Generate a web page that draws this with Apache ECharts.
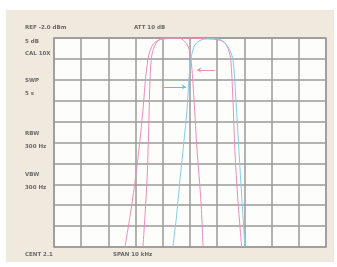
<!DOCTYPE html>
<html><head><meta charset="utf-8">
<script src="https://cdn.jsdelivr.net/npm/echarts@6/dist/echarts.min.js"></script>
<style>
html,body{margin:0;padding:0;background:#fff;}
#panel{position:absolute;left:6px;top:10px;width:328px;height:252px;background:#efe9de;}
#c{position:absolute;left:0;top:0;width:337px;height:267px;filter:blur(0.55px);}
</style></head>
<body><div id="panel"></div><div id="c"></div>
<script>
// Horizontal divisions (10) and vertical divisions (10), 5 dB/div
const xDivs = [0,1,2,3,4,5,6,7,8,9,10];
const yDivs = [0,1,2,3,4,5,6,7,8,9,10];
// Pink trace A (narrow filter): [div x, div y]
const pinkNarrow = [[3.27,0],[3.42,3.2],[3.49,6.1],[3.53,8.0],[3.6,9.2],[3.75,9.75],[3.97,10.0],[4.34,10.05],[4.7,9.95],[4.93,9.6],[5.04,8.95],[5.15,7.0],[5.26,4.6],[5.4,2.25],[5.48,0]];
// Pink trace B (wide filter)
const pinkWide = [[2.61,0],[2.83,1.77],[3.01,3.44],[3.16,5.1],[3.27,6.55],[3.38,8.23],[3.49,9.2],[3.64,9.7],[3.9,9.92],[4.6,10],[5.4,9.97],[6.0,9.92],[6.25,9.8],[6.4,9.5],[6.5,8.95],[6.58,7.0],[6.65,4.6],[6.76,2.25],[6.9,0]];
// Cyan trace (shifted filter)
const cyanTrace = [[4.37,0],[4.49,1.3],[4.63,3.2],[4.78,5.1],[4.89,6.55],[4.96,8.0],[5.04,9.04],[5.18,9.67],[5.44,9.92],[5.81,9.98],[6.18,9.88],[6.43,9.5],[6.58,8.95],[6.69,7.0],[6.8,4.6],[6.91,2.25],[7.02,0]];
// Marker arrows: [from, to]
const pinkArrow = [[5.92,8.47],[5.26,8.47]];
const cyanArrow = [[4.0,7.66],[4.85,7.66]];
// Annotation texts
const leftLabels = ["5 dB","CAL 10X","SWP","5 s","RBW","300 Hz","VBW","300 Hz"];
const leftLabelY = [41,53,80,93,133,146,174,187];
const topLeftText = "REF -2.0 dBm";
const topMidText = "ATT 10 dB";
const bottomLeftText = "CENT 2.1";
const bottomMidText = "SPAN 10 kHz";

const chart = echarts.init(document.getElementById('c'), null, {renderer:'svg'});
const txtStyle = {fontSize:5.5, fontWeight:'bold', fill:'#6a6a6a', fontFamily:'DejaVu Sans'};
const graphics = [];
leftLabels.forEach((t,i)=>graphics.push({type:'text',left:25,top:leftLabelY[i]-3,style:Object.assign({text:t},txtStyle)}));
graphics.push({type:'text',left:25,top:24,style:Object.assign({text:topLeftText},txtStyle)});
graphics.push({type:'text',left:134,top:24,style:Object.assign({text:topMidText},txtStyle)});
graphics.push({type:'text',left:25,top:251,style:Object.assign({text:bottomLeftText},txtStyle)});
graphics.push({type:'text',left:113,top:251,style:Object.assign({text:bottomMidText},txtStyle)});

function arrow(pts,color){
  return {silent:true,symbol:['none','arrow'],symbolSize:4,label:{show:false},
    lineStyle:{color:color,width:1,type:'solid'},data:[[{coord:pts[0]},{coord:pts[1]}]]};
}
chart.setOption({
  animation:false,
  backgroundColor:'transparent',
  grid:{left:54,right:11,top:38,bottom:20,show:true,backgroundColor:'#fdfdfb',borderColor:'#9a9a9a',borderWidth:1.5},
  xAxis:{type:'value',min:xDivs[0],max:xDivs[xDivs.length-1],interval:1,
    axisLabel:{show:false},axisTick:{show:false},axisLine:{show:false},
    splitLine:{show:true,lineStyle:{color:'#9a9a9a',width:1.5}}},
  yAxis:{type:'value',min:yDivs[0],max:yDivs[yDivs.length-1],interval:1,
    axisLabel:{show:false},axisTick:{show:false},axisLine:{show:false},
    splitLine:{show:true,lineStyle:{color:'#9a9a9a',width:1.5}}},
  graphic:graphics,
  series:[
    {type:'line',data:pinkWide,smooth:0.3,symbol:'none',lineStyle:{color:'#ec8dba',width:1}},
    {type:'line',data:pinkNarrow,smooth:0.3,symbol:'none',lineStyle:{color:'#ec8dba',width:1},markLine:arrow(pinkArrow,'#ec8dba')},
    {type:'line',data:cyanTrace,smooth:0.3,symbol:'none',lineStyle:{color:'#86cbe6',width:1},markLine:arrow(cyanArrow,'#6dbbe0')}
  ]
});
</script></body></html>
